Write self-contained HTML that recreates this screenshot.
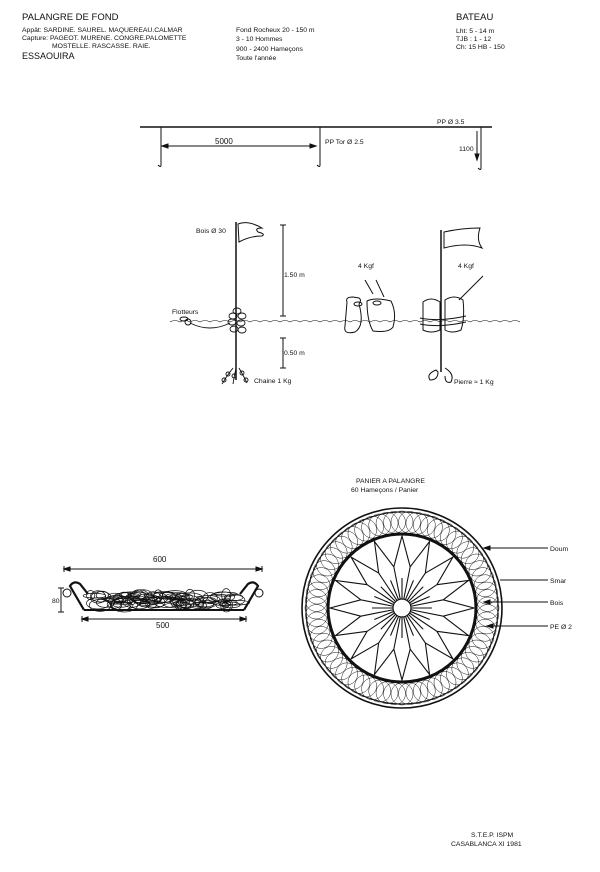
<!DOCTYPE html>
<html><head><meta charset="utf-8"><style>
body{margin:0;background:#fff;width:600px;height:872px;overflow:hidden}
svg{display:block}
text{font-family:"Liberation Sans",sans-serif;fill:#111}
</style></head><body>
<svg id="s" width="600" height="872" viewBox="0 0 600 872" xmlns="http://www.w3.org/2000/svg">
<g font-size="6.8">
<text x="22" y="20" font-size="9.5">PALANGRE DE FOND</text>
<text x="22" y="32">Appât: SARDINE. SAUREL. MAQUEREAU.CALMAR</text>
<text x="22" y="40">Capture: PAGEOT. MURENE. CONGRE.PALOMETTE</text>
<text x="52" y="48">MOSTELLE. RASCASSE. RAIE.</text>
<text x="22" y="59" font-size="9">ESSAOUIRA</text>
<text x="236" y="32">Fond Rocheux  20 - 150 m</text>
<text x="236" y="41">3 - 10 Hommes</text>
<text x="236" y="51">900 - 2400 Hameçons</text>
<text x="236" y="60">Toute l'année</text>
<text x="456" y="20" font-size="9.5">BATEAU</text>
<text x="456" y="33">Lht: 5 - 14 m</text>
<text x="456" y="41">TJB : 1 - 12</text>
<text x="456" y="49">Ch: 15 HB - 150</text>
<text x="437" y="124">PP Ø 3.5</text>
<text x="215" y="144" font-size="8">5000</text>
<text x="325" y="144">PP Tor  Ø 2.5</text>
<text x="459" y="151">1100</text>
<text x="196" y="233">Bois Ø 30</text>
<text x="284" y="277">1.50 m</text>
<text x="172" y="314">Flotteurs</text>
<text x="284" y="355">0.50 m</text>
<text x="254" y="383">Chaine 1 Kg</text>
<text x="358" y="268">4 Kgf</text>
<text x="458" y="268">4 Kgf</text>
<text x="454" y="384">Pierre ≈ 1 Kg</text>
<text x="153" y="562" font-size="8">600</text>
<text x="156" y="628" font-size="8">500</text>
<text x="52" y="603">80</text>
<text x="356" y="483">PANIER A PALANGRE</text>
<text x="351" y="492">60 Hameçons / Panier</text>
<text x="550" y="551">Doum</text>
<text x="550" y="583">Smar</text>
<text x="550" y="605">Bois</text>
<text x="550" y="629">PE Ø 2</text>
<text x="471" y="837">S.T.E.P.  ISPM</text>
<text x="451" y="846">CASABLANCA XI  1981</text>
</g>
<g stroke="#111" fill="none" stroke-width="1">
<line x1="140" y1="127" x2="492" y2="127" stroke-width="1.4"/>
<path d="M161 127V165q0 3 -3 0M320 127V165q0 3 -3 0M481 127V168q0 3 -3 0"/>
<line x1="162" y1="146" x2="316" y2="146"/>
<path d="M162 146l6 -2v4zM316 146l-6 -2v4z" fill="#111"/>
<line x1="477" y1="131" x2="477" y2="160"/>
<path d="M477 160l-2 -6h4z" fill="#111"/>
<line x1="236" y1="222" x2="236" y2="380" stroke-width="1.5"/>
<path d="M238 224q10 -4 24 4q-8 0 -4 4q8 2 4 4q-12 0 -23 6z"/>
<line x1="283" y1="225" x2="283" y2="316"/><path d="M280 225h6M280 316h6"/>
<line x1="283" y1="338" x2="283" y2="368"/><path d="M280 338h6M280 368h6"/>
<g stroke-width="0.9">
<ellipse cx="233" cy="316" rx="4" ry="3"/><ellipse cx="242" cy="316" rx="4" ry="3"/>
<ellipse cx="232" cy="322" rx="4" ry="3"/><ellipse cx="241" cy="323" rx="4" ry="3"/>
<ellipse cx="234" cy="329" rx="4" ry="3"/><ellipse cx="242" cy="330" rx="4" ry="3"/>
<ellipse cx="237" cy="311" rx="4" ry="3"/>
<ellipse cx="184" cy="319" rx="4" ry="2"/><ellipse cx="188" cy="322" rx="3" ry="3"/>
<path d="M190 323q20 10 40 0"/>
<path d="M233 368l-6 8l-5 8M236 368l-2 10l-1 6M239 368l5 9l3 6"/>
<circle cx="228" cy="374" r="2"/><circle cx="224" cy="380" r="2"/><circle cx="234" cy="376" r="2"/><circle cx="242" cy="373" r="2"/><circle cx="246" cy="380" r="2"/>
</g>
<path id="w" stroke-width="0.6" d=""/>
<line x1="441" y1="230" x2="441" y2="372" stroke-width="1.5"/>
<path d="M444 232q18 -4 36 -4q-4 12 2 20q-16 -6 -38 0z"/>
<path d="M347 302q-2 -5 6 -5l6 1q3 2 0 6q6 22 -4 28q-12 3 -10 -6z" />
<path d="M367 301q8 -4 24 0q6 12 2 26q-4 6 -20 4q-6 -10 -6 -30z"/>
<ellipse cx="358" cy="304" rx="4" ry="2"/><ellipse cx="377" cy="303" rx="4" ry="2"/>
<path d="M423 302q8 -6 17 0v28q-9 4 -17 0z"/>
<path d="M445 300q9 -6 18 0q2 18 -2 30q-9 4 -16 0z"/>
<path d="M420 318q20 4 46 -2M420 324q20 4 46 -2"/>
<path d="M373 294L365 280M384 297L376 280M459 300L483 276"/>
<path d="M436 370q-10 4 -6 10q8 0 8 -8zM445 368q10 6 6 14q-6 2 -6 -6"/>
<line x1="64" y1="569" x2="262" y2="569"/><path d="M64 566v6M262 566v6"/>
<path d="M64 569l6 -2v4zM262 569l-6 -2v4z" fill="#111"/>
<line x1="82" y1="619" x2="246" y2="619"/><path d="M82 616v6M246 616v6"/>
<path d="M82 619l6 -2v4zM246 619l-6 -2v4z" fill="#111"/>
<line x1="61" y1="588" x2="61" y2="612"/><path d="M58 588h6M58 612h6"/>
<path d="M84 610H244" stroke-width="2"/>
<path d="M84 610L70 586q4 -6 10 -2l8 10M244 610L258 586q-4 -6 -10 -2l-8 10" stroke-width="2.2"/>
<circle cx="67" cy="593" r="4"/><circle cx="259" cy="593" r="4"/>
<g id="tangle" stroke-width="0.7"></g>
<circle cx="402" cy="608" r="100" stroke-width="1.6"/>
<circle cx="402" cy="608" r="96"/>
<circle cx="402" cy="608" r="74" stroke-width="3"/>
<g id="mesh" stroke-width="0.5"></g>
<g id="star" stroke-width="1.1"></g>
<circle cx="402" cy="608" r="9" fill="#fff" stroke-width="1.2"/>
<path d="M548 548H484M548 580H500M548 602H484M548 626H487"/>
<path d="M484 548l6 -2v4zM484 602l6 -2v4zM487 626l6 -2v4z" fill="#111"/>
</g>
</svg>
<script>
var N="http://www.w3.org/2000/svg";
function add(g,tag,a){var e=document.createElementNS(N,tag);for(var k in a)e.setAttribute(k,a[k]);g.appendChild(e);}
var d="M170 322";for(var x=170;x<512;x+=10){d+=" q5 -3 10 0";}
document.getElementById("w").setAttribute("d",d);
var m=document.getElementById("mesh");
for(var i=0;i<72;i++){var a=i*Math.PI/36;add(m,"circle",{cx:402+86*Math.cos(a),cy:608+86*Math.sin(a),r:11});}
var s=document.getElementById("star"),cx=402,cy=608,n=16,p="";
for(var i=0;i<n;i++){var a=i*2*Math.PI/n,a1=a+Math.PI/n,a2=a-Math.PI/n;
 var tx=cx+72*Math.cos(a),ty=cy+72*Math.sin(a);
 var mx=cx+42*Math.cos(a1),my=cy+42*Math.sin(a1),nx=cx+42*Math.cos(a2),ny=cy+42*Math.sin(a2);
 p+="M"+(cx+9*Math.cos(a1))+" "+(cy+9*Math.sin(a1))+"L"+mx+" "+my+"L"+tx+" "+ty+"L"+nx+" "+ny+" ";
 p+="M"+(cx+9*Math.cos(a))+" "+(cy+9*Math.sin(a))+"L"+(cx+30*Math.cos(a))+" "+(cy+30*Math.sin(a))+" ";}
add(s,"path",{d:p});
var t=document.getElementById("tangle");var seed=3;function r(){seed=(seed*9301+49297)%233280;return seed/233280;}
for(var i=0;i<90;i++){add(t,"ellipse",{cx:90+r()*150,cy:594+r()*12,rx:4+r()*10,ry:2+r()*5});}
</script>
</body></html>
